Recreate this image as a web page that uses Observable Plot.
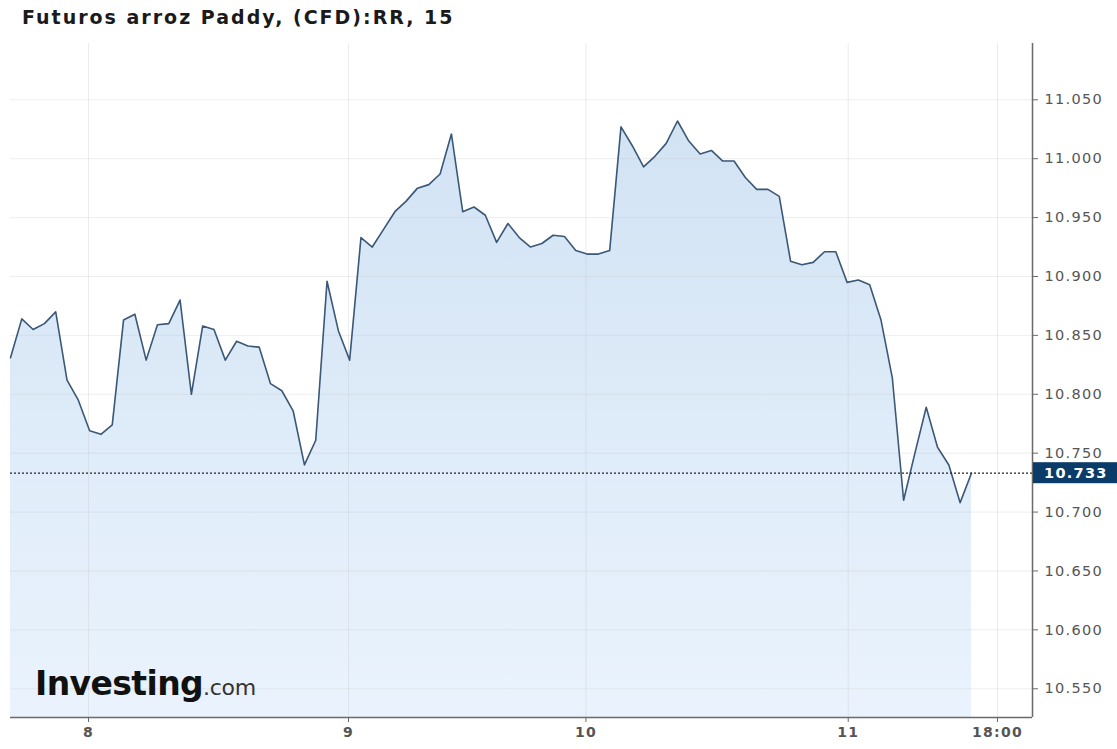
<!DOCTYPE html>
<html>
<head>
<meta charset="utf-8">
<script src="https://cdn.jsdelivr.net/npm/d3@7"></script>
<script src="https://cdn.jsdelivr.net/npm/@observablehq/plot@0.6"></script>
<style>
  body { margin: 0; background: #fff; }
  #wrap { position: relative; width: 1117px; height: 749px; overflow: hidden; background: #fff; }
  #title { position: absolute; left: 22px; top: 6px; font: bold 19px "DejaVu Sans", sans-serif; letter-spacing: 2px; color: #1a1a1a; white-space: nowrap; }
  #chart { position: absolute; left: 0; top: 38px; }
  #logo { position: absolute; left: 35px; top: 664px; white-space: nowrap; color: #111; }
  #logo .big { font: bold 33px "DejaVu Sans", sans-serif; letter-spacing: -0.6px; }
  #logo .small { font: 22px "DejaVu Sans", sans-serif; color: #333; letter-spacing: -0.3px; }
</style>
</head>
<body>
<div id="wrap">
  <div id="title">Futuros arroz Paddy, (CFD):RR, 15</div>
  <div id="chart"></div>
  <div id="logo"><span class="big">Investing</span><span class="small">.com</span></div>
</div>
<script>
// ---- data (15-minute bars, in sequence) ----
const prices = [
  10.831, 10.864, 10.855, 10.860, 10.870, 10.812, 10.795, 10.769, 10.766, 10.774,
  10.863, 10.868, 10.829, 10.859, 10.860, 10.880, 10.800, 10.858, 10.855, 10.829,
  10.845, 10.841, 10.840, 10.809, 10.803, 10.786, 10.740, 10.761, 10.896, 10.854,
  10.829, 10.933, 10.925, 10.940, 10.955, 10.964, 10.975, 10.978, 10.987, 11.021,
  10.955, 10.959, 10.952, 10.929, 10.945, 10.933, 10.925, 10.928, 10.935, 10.934,
  10.922, 10.919, 10.919, 10.922, 11.027, 11.011, 10.993, 11.002, 11.013, 11.032,
  11.015, 11.004, 11.007, 10.998, 10.998, 10.984, 10.974, 10.974, 10.968, 10.913,
  10.910, 10.912, 10.921, 10.921, 10.895, 10.897, 10.893, 10.863, 10.814, 10.710,
  10.750, 10.789, 10.755, 10.740, 10.708, 10.733
];
const lastPrice = 10.733;
const xTickPositions = [6.9, 29.9, 50.9, 74.1, 87.3];   // bar index of each date tick
const xTickLabels = ["8", "9", "10", "11", "18:00"];
const yTicks = [10.55, 10.60, 10.65, 10.70, 10.75, 10.80, 10.85, 10.90, 10.95, 11.00, 11.05];
const xDomain = [0, 90.4];
const yDomain = [10.5256, 11.0978];

const data = prices.map((v, i) => ({i, v}));

const gradient = () => {
  const defs = d3.create("svg:defs");
  const g = defs.append("linearGradient").attr("id", "areaGrad")
    .attr("x1", 0).attr("y1", 0).attr("x2", 0).attr("y2", 1);
  g.append("stop").attr("offset", "0%").attr("stop-color", "#d2e3f4");
  g.append("stop").attr("offset", "100%").attr("stop-color", "#eaf3fd");
  return defs.node();
};

const plot = Plot.plot({
  width: 1117,
  height: 711,
  marginTop: 5,
  marginBottom: 32,
  marginLeft: 10,
  marginRight: 85,
  style: { fontFamily: "DejaVu Sans, sans-serif", background: "transparent", letterSpacing: "1.3px" },
  x: { type: "linear", domain: xDomain, axis: null },
  y: { domain: yDomain, axis: null },
  marks: [
    gradient,
    Plot.areaY(data, { x: "i", y1: yDomain[0], y2: "v", fill: "url(#areaGrad)" }),
    Plot.gridX(xTickPositions, { stroke: "#c8c8c8", strokeOpacity: 0.35 }),
    Plot.gridY(yTicks, { stroke: "#c8c8c8", strokeOpacity: 0.3 }),
    Plot.lineY(data, { x: "i", y: "v", stroke: "#3b5877", strokeWidth: 1.6 }),
    Plot.ruleY([lastPrice], { stroke: "#222", strokeWidth: 1.2, strokeDasharray: "2,2" }),
    Plot.ruleX([xDomain[1]], { stroke: "#6a6a6a", strokeWidth: 1.5 }),
    Plot.ruleY([yDomain[0]], { stroke: "#6a6a6a", strokeWidth: 1.5 }),
    Plot.axisY({
      anchor: "right", ticks: yTicks, tickFormat: d3.format(".3f"), tickSize: 5, tickPadding: 7,
      fontSize: 14.5, fill: "#555", stroke: "#6a6a6a", label: null
    }),
    Plot.axisX({
      anchor: "bottom", ticks: xTickPositions,
      tickFormat: d => xTickLabels[xTickPositions.indexOf(d)],
      tickSize: 5, tickPadding: 5, fontSize: 14, fontWeight: "bold", fill: "#555", stroke: "#6a6a6a", label: null
    })
  ]
});

// current-price label box on the right axis
const ys = plot.scale("y").apply(lastPrice);
const svg = d3.select(plot);
const left = 1117 - 85 + 1;
svg.append("rect").attr("x", left).attr("y", ys - 10.5).attr("width", 1117 - left).attr("height", 21)
  .attr("fill", "#0b3b68");
svg.append("text").attr("x", left + 11).attr("y", ys).attr("dy", "0.36em")
  .attr("text-anchor", "start")
  .attr("fill", "#fff").attr("font-size", 14.5).attr("font-weight", "bold")
  .attr("font-family", "DejaVu Sans, sans-serif").attr("letter-spacing", "1.3px")
  .text(d3.format(".3f")(lastPrice));

document.getElementById("chart").appendChild(plot);
</script>
</body>
</html>
